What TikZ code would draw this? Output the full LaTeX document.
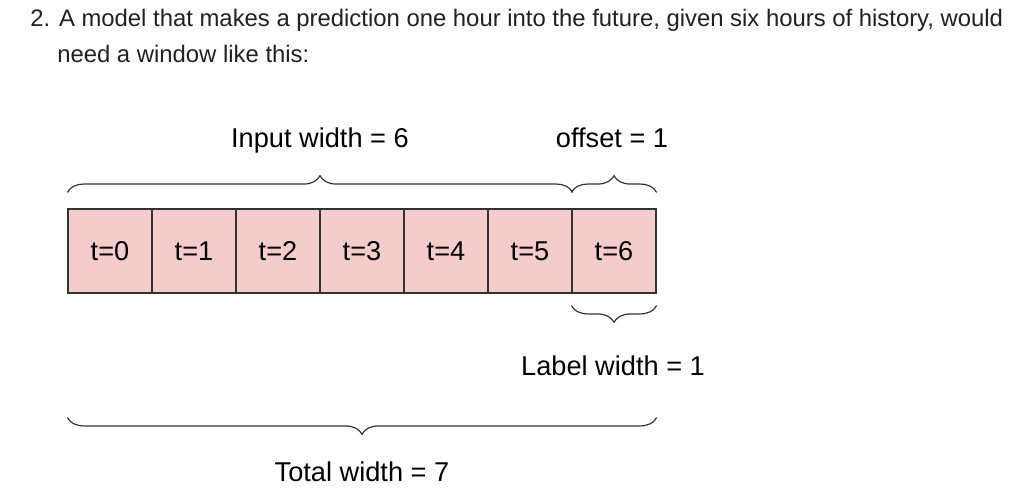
\documentclass[tikz,border=0pt]{standalone}
\usepackage{fontspec}
\setmainfont{Liberation Sans}
\usetikzlibrary{decorations.pathreplacing}

\definecolor{celda}{HTML}{F4CCCC}
\definecolor{texto}{HTML}{202124}
\definecolor{borda}{HTML}{333333}

\tikzset{
    celula/.style={draw=borda,fill=celda,line width=0.9pt,minimum width=63pt,minimum height=63pt,inner sep=0pt,font=\fontsize{20.4}{24}\selectfont},
    chave/.style={draw=borda,line width=0.9pt,decorate,decoration={brace,amplitude=12.5pt}},
    rotulo/.style={anchor=base,inner sep=0pt,font=\fontsize{20.4}{24}\selectfont},
    enunciado/.style={anchor=base west,inner sep=0pt,text=texto,font=\fontsize{17.9}{20}\selectfont}
}

\begin{document}
\begin{tikzpicture}[x=0.75pt,y=-0.75pt]

\useasboundingbox (0,0) rectangle (1021,495);

% enunciado
\node[enunciado] (linha1) at (30,27) {2. A model that makes a prediction one hour into the future, given six hours of history, would};
\node[enunciado] (linha2) at (57,63) {need a window like this:};

% janela
\foreach \i in {0,...,6}
{
    \node[celula] (c\i) at (110+84*\i,251) {t=\i};
}

% pontas das chaves
\coordinate (inA) at ([yshift=12pt]c0.north west);
\coordinate (inB) at ([yshift=12pt]c5.north east);
\coordinate (ofA) at ([yshift=12pt]c6.north west);
\coordinate (ofB) at ([yshift=12pt]c6.north east);
\coordinate (lbA) at ([yshift=-9pt]c6.south east);
\coordinate (lbB) at ([yshift=-9pt]c6.south west);
\coordinate (ttA) at ([yshift=-93pt]c6.south east);
\coordinate (ttB) at ([yshift=-93pt]c0.south west);

% chaves
\draw[chave] (inA) -- (inB);
\draw[chave] (ofA) -- (ofB);
\draw[chave] (lbA) -- (lbB);
\draw[chave] (ttA) -- (ttB);

% rotulos
\node[rotulo] (input) at (320,148) {Input width = 6};
\node[rotulo] (offset) at (612,148) {offset = 1};
\node[rotulo] (label) at (613,375) {Label width = 1};
\node[rotulo] (total) at (362,481) {Total width = 7};

\end{tikzpicture}
\end{document}
